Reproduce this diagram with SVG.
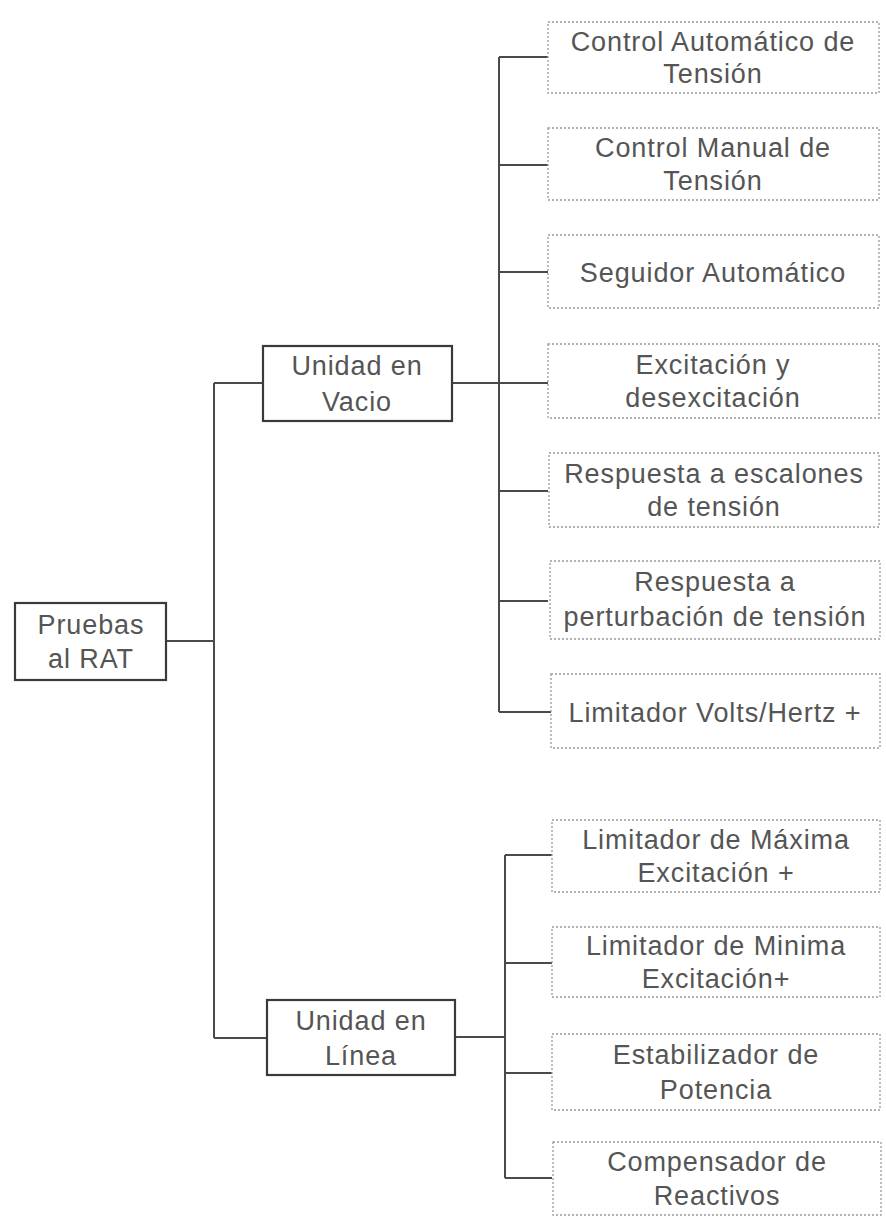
<svg xmlns="http://www.w3.org/2000/svg" width="886" height="1224" viewBox="0 0 886 1224">
<style>
.solid{fill:#fff;stroke:#3a3a3a;stroke-width:2.2}
.dot{fill:#fff;stroke:#9a9a9a;stroke-width:1.3;stroke-dasharray:2 2}
.t{font-family:"Liberation Sans",Arial,sans-serif;font-size:27px;letter-spacing:0.9px;fill:#555;text-anchor:middle}
.c{fill:none;stroke:#4a4a4a;stroke-width:2}
</style>
<rect width="886" height="1224" fill="#fff"/>
<g id="connectors">
<path class="c" d="M166 641H214M214 383V1038M214 383H263M214 1038H267"/>
<path class="c" d="M452 383H548M499 57V712M499 57H548M499 165H548M499 272H548M499 491H548M499 601H548M499 712H551"/>
<path class="c" d="M455 1037H505M505 855V1178M505 855H552M505 963H552M505 1073H552M505 1178H552"/>
</g>
<g id="root"><rect class="solid" x="15" y="603" width="151" height="77"/><text class="t" x="91" y="634">Pruebas</text><text class="t" x="91" y="668">al RAT</text></g>
<g id="vacio"><rect class="solid" x="263" y="346" width="189" height="75"/><text class="t" x="357" y="375">Unidad en</text><text class="t" x="357" y="411">Vacio</text></g>
<g id="linea"><rect class="solid" x="267" y="1000" width="188" height="75"/><text class="t" x="361" y="1030">Unidad en</text><text class="t" x="361" y="1065">Línea</text></g>
<g id="n1"><rect class="dot" x="548" y="22" width="331" height="71"/><text class="t" x="713" y="51">Control Automático de</text><text class="t" x="713" y="83">Tensión</text></g>
<g id="n2"><rect class="dot" x="548" y="128" width="331" height="72"/><text class="t" x="713" y="157">Control Manual de</text><text class="t" x="713" y="190">Tensión</text></g>
<g id="n3"><rect class="dot" x="548" y="235" width="331" height="73"/><text class="t" x="713" y="282">Seguidor Automático</text></g>
<g id="n4"><rect class="dot" x="548" y="344" width="331" height="74"/><text class="t" x="713" y="374">Excitación y</text><text class="t" x="713" y="407">desexcitación</text></g>
<g id="n5"><rect class="dot" x="549" y="453" width="330" height="74"/><text class="t" x="714" y="483">Respuesta a escalones</text><text class="t" x="714" y="516">de tensión</text></g>
<g id="n6"><rect class="dot" x="550" y="561" width="330" height="78"/><text class="t" x="715" y="591">Respuesta a</text><text class="t" x="715" y="626">perturbación de tensión</text></g>
<g id="n7"><rect class="dot" x="551" y="674" width="329" height="74"/><text class="t" x="715" y="722">Limitador Volts/Hertz +</text></g>
<g id="n8"><rect class="dot" x="552" y="820" width="328" height="72"/><text class="t" x="716" y="849">Limitador de Máxima</text><text class="t" x="716" y="882">Excitación +</text></g>
<g id="n9"><rect class="dot" x="552" y="927" width="328" height="70"/><text class="t" x="716" y="955">Limitador de Minima</text><text class="t" x="716" y="988">Excitación+</text></g>
<g id="n10"><rect class="dot" x="552" y="1034" width="328" height="76"/><text class="t" x="716" y="1064">Estabilizador de</text><text class="t" x="716" y="1099">Potencia</text></g>
<g id="n11"><rect class="dot" x="553" y="1142" width="328" height="73"/><text class="t" x="717" y="1171">Compensador de</text><text class="t" x="717" y="1205">Reactivos</text></g>
</svg>
